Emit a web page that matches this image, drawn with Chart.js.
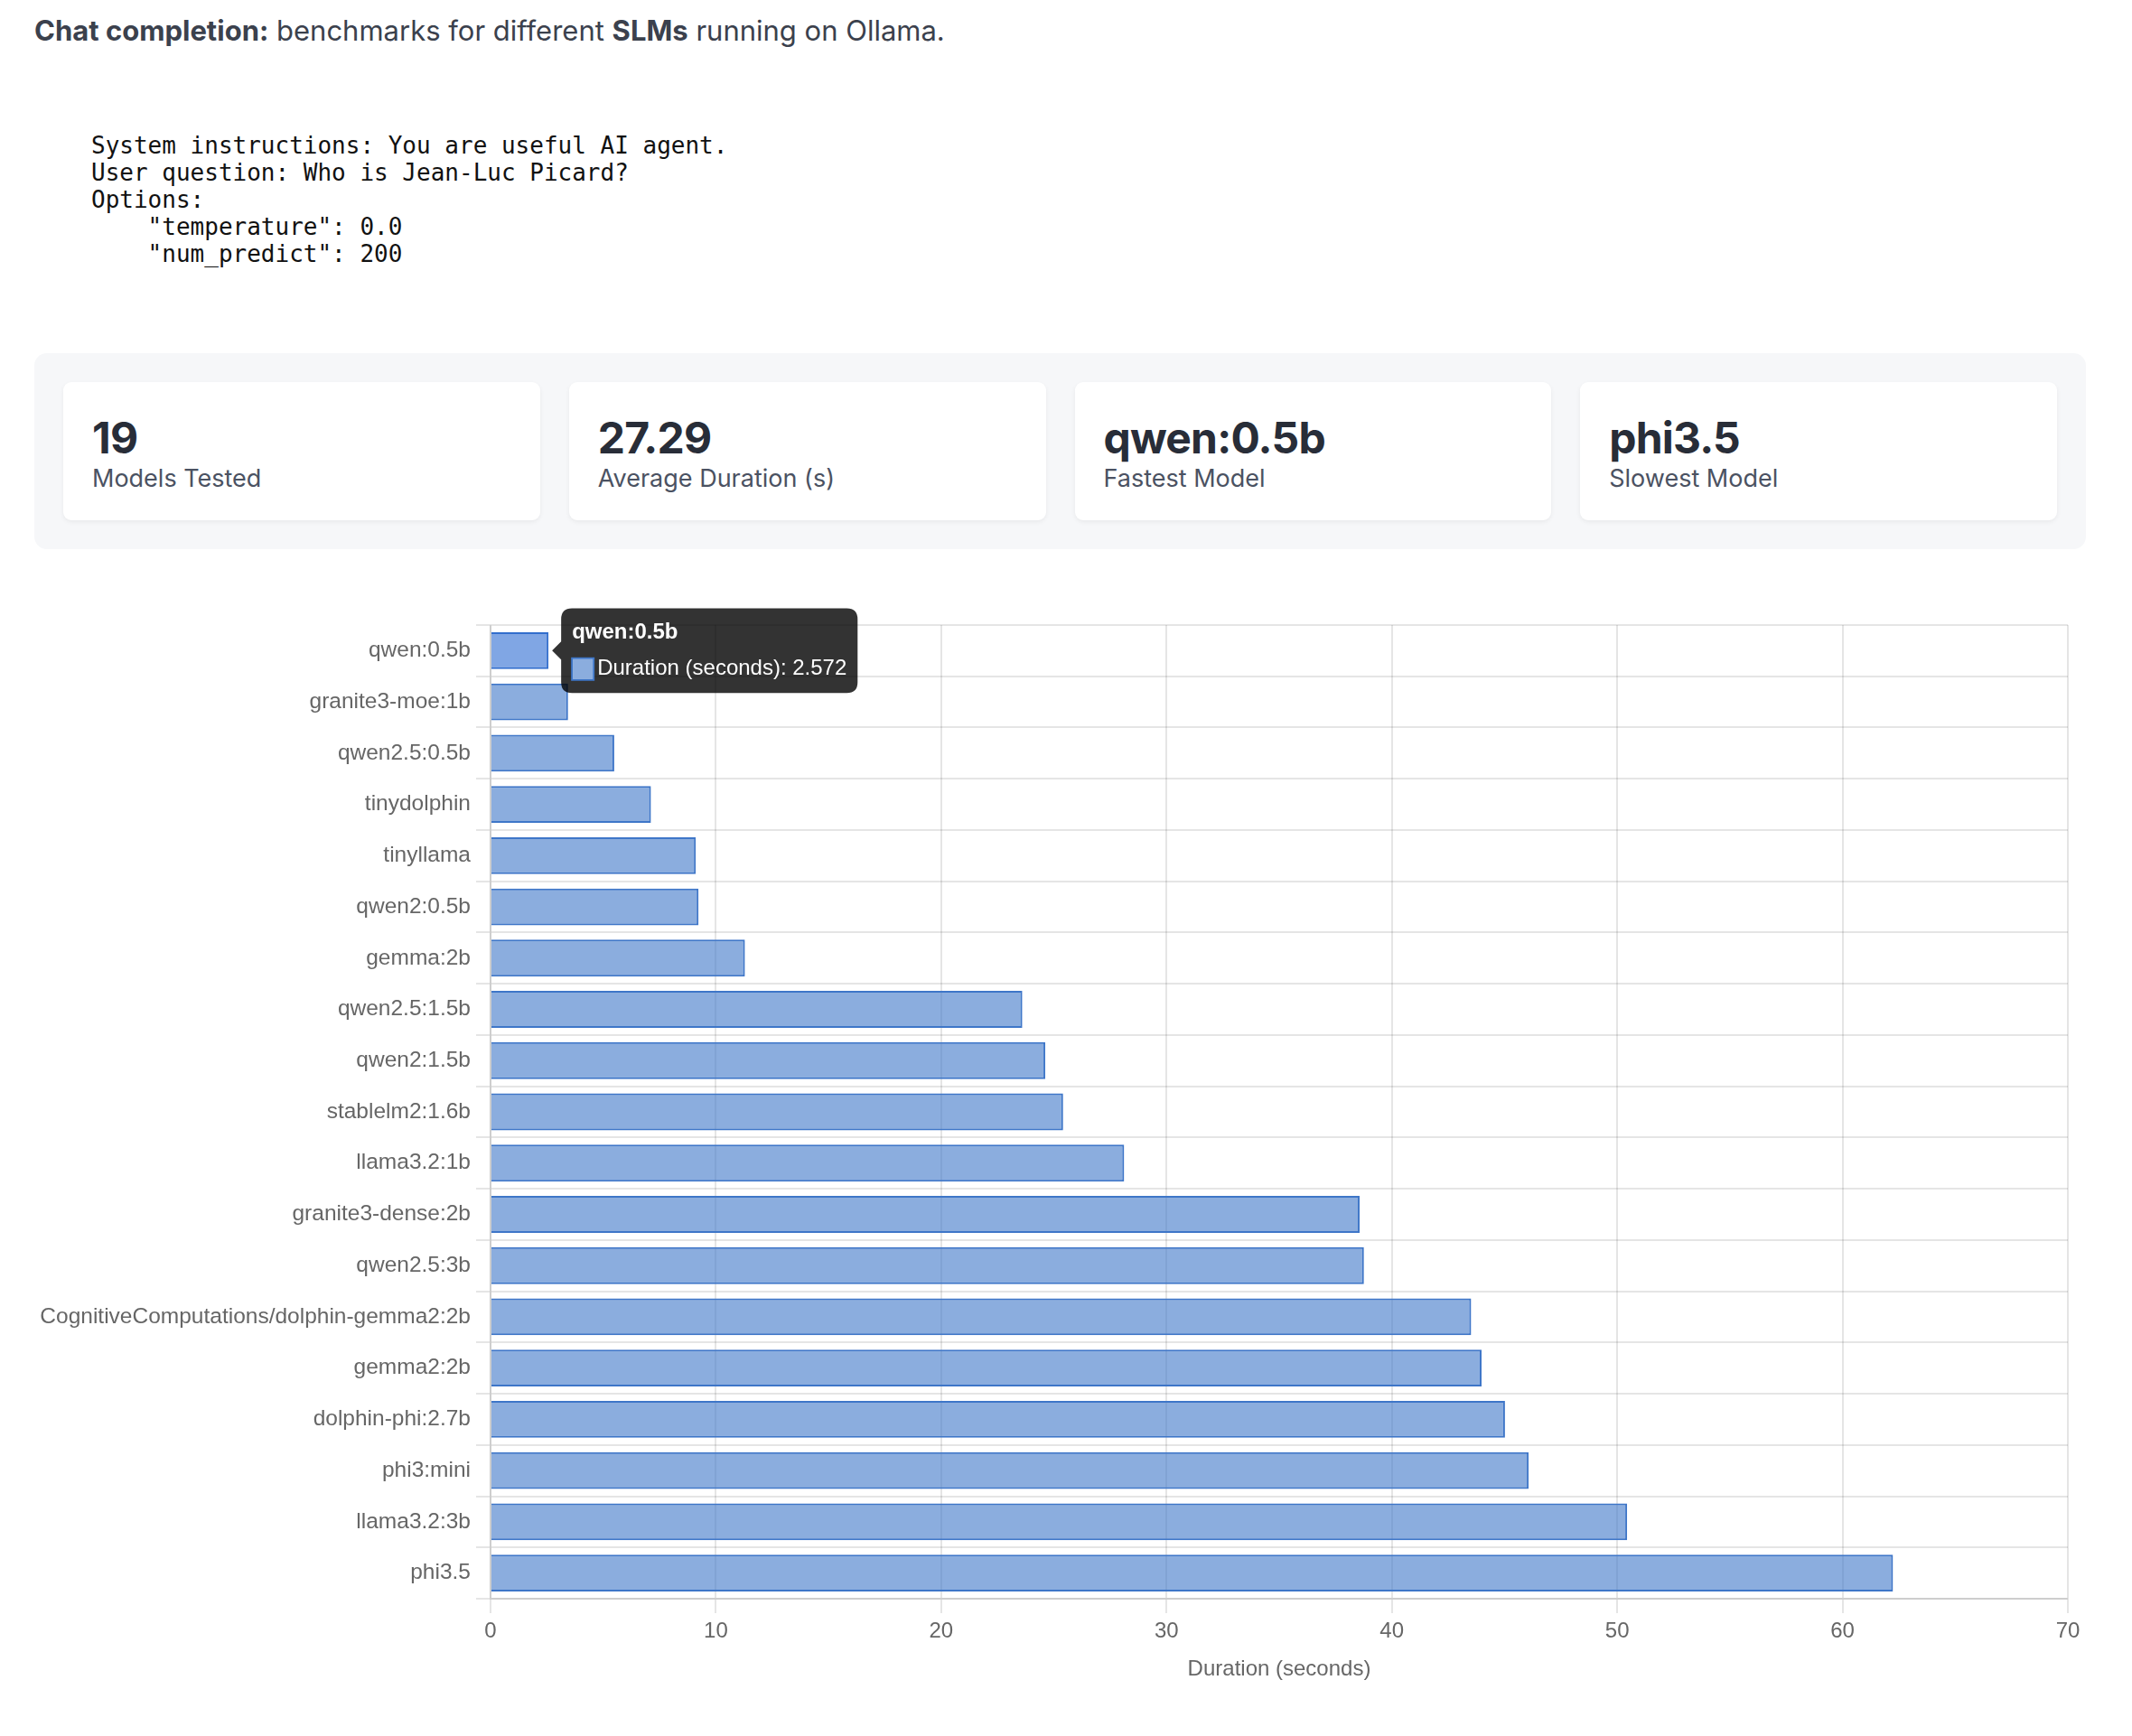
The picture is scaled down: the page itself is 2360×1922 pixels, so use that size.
<!DOCTYPE html>
<html>
<head>
<meta charset="utf-8">
<script src="https://cdn.jsdelivr.net/npm/chart.js@4.4.1/dist/chart.umd.min.js"></script>
<style>
  html, body { margin: 0; padding: 0; background: #ffffff; }
  body { width: 2360px; height: 1922px; position: relative; overflow: hidden; font-family: "Inter", "Noto Sans", sans-serif; }
  #title { position: absolute; left: 38px; top: 15px; font-size: 31px; line-height: 37px; color: #3b414d; white-space: nowrap; }
  #title b { font-weight: 700; }
  #prompt { position: absolute; left: 101px; top: 146px; margin: 0; font-family: "DejaVu Sans Mono", monospace; font-size: 26px; line-height: 30px; color: #111; white-space: pre; }
  #stats { position: absolute; left: 38px; top: 391px; width: 2271px; height: 217px; box-sizing: border-box; padding: 32px; background: #f6f7f9; border-radius: 14px; display: grid; grid-template-columns: repeat(4, 1fr); column-gap: 32px; }
  .card { background: #ffffff; border-radius: 9px; box-shadow: 0 2px 5px rgba(0,0,0,0.06); box-sizing: border-box; padding: 35px 32px 0 32px; height: 153px; }
  .card .v { font-size: 48px; line-height: 53px; font-weight: 700; color: #282d38; letter-spacing: -0.8px; }
  .card .l { font-size: 27px; line-height: 32px; color: #4b5262; margin-top: 3px; }
  #chartBox { position: absolute; left: 38px; top: 640px; width: 2271px; height: 1231px; }
</style>
</head>
<body>
<div id="title"><b>Chat completion:</b> benchmarks for different <b>SLMs</b> running on Ollama.</div>
<pre id="prompt">System instructions: You are useful AI agent.
User question: Who is Jean-Luc Picard?
Options:
    "temperature": 0.0
    "num_predict": 200</pre>
<div id="stats"></div>
<div id="chartBox"><canvas id="c" width="2271" height="1231"></canvas></div>
<script>
// ---- data ----
const models = [
  "qwen:0.5b", "granite3-moe:1b", "qwen2.5:0.5b", "tinydolphin", "tinyllama",
  "qwen2:0.5b", "gemma:2b", "qwen2.5:1.5b", "qwen2:1.5b", "stablelm2:1.6b",
  "llama3.2:1b", "granite3-dense:2b", "qwen2.5:3b", "CognitiveComputations/dolphin-gemma2:2b",
  "gemma2:2b", "dolphin-phi:2.7b", "phi3:mini", "llama3.2:3b", "phi3.5"
];
const durations = [
  2.572, 3.44, 5.49, 7.12, 9.11,
  9.23, 11.29, 23.6, 24.62, 25.41,
  28.12, 38.57, 38.76, 43.52,
  43.98, 45.02, 46.07, 50.44, 62.24
];
const seriesLabel = "Duration (seconds)";
const axisTitle = "Duration (seconds)";
const statValues = ["19", "27.29", "qwen:0.5b", "phi3.5"];
const statLabels = ["Models Tested", "Average Duration (s)", "Fastest Model", "Slowest Model"];
const xTickMin = 0, xTickMax = 70, xTickStep = 10;

// ---- stats cards ----
const stats = document.getElementById('stats');
statValues.forEach((v, i) => {
  const card = document.createElement('div');
  card.className = 'card';
  const a = document.createElement('div'); a.className = 'v'; a.textContent = v;
  const b = document.createElement('div'); b.className = 'l'; b.textContent = statLabels[i];
  card.appendChild(a); card.appendChild(b);
  stats.appendChild(card);
});

// ---- chart ----
Chart.defaults.font.family = "'Helvetica Neue', Helvetica, Arial, 'Liberation Sans', sans-serif";
Chart.defaults.font.size = 24;
Chart.defaults.color = '#666';

Chart.Tooltip.positioners.barEnd = function (items) {
  if (!items.length) return false;
  const el = items[0].element;
  return { x: el.x, y: el.y };
};

const chart = new Chart(document.getElementById('c'), {
  type: 'bar',
  data: {
    labels: models,
    datasets: [{
      label: seriesLabel,
      data: durations,
      backgroundColor: 'rgba(62, 118, 200, 0.6)',
      borderColor: 'rgba(62, 118, 200, 1)',
      hoverBackgroundColor: 'rgba(44, 106, 210, 0.6)',
      hoverBorderColor: 'rgba(50, 110, 205, 1)',
      borderWidth: 2
    }]
  },
  options: {
    indexAxis: 'y',
    responsive: false,
    animation: false,
    events: [],
    layout: { padding: { top: 52, right: 20, left: 0, bottom: 0 } },
    plugins: {
      legend: { display: false },
      tooltip: {
        animation: false,
        position: 'barEnd',
        padding: 12,
        caretSize: 10,
        caretPadding: 4,
        cornerRadius: 12,
        titleMarginBottom: 12,
        titleSpacing: 4,
        bodySpacing: 4,
        boxPadding: 2,
        titleFont: { size: 24, weight: 'bold' },
        bodyFont: { size: 24 },
        backgroundColor: 'rgba(0,0,0,0.8)'
      }
    },
    scales: {
      x: {
        min: xTickMin, max: xTickMax,
        ticks: { stepSize: xTickStep, padding: 6 },
        grid: { lineWidth: 2, tickLength: 16 },
        border: { width: 2 },
        title: { display: true, text: axisTitle, padding: { top: 8, bottom: 8 } },
        afterFit: (s) => { s.height = 101; }
      },
      y: {
        ticks: { padding: 6, autoSkip: false, font: { size: 24.5 } },
        grid: { lineWidth: 2, tickLength: 16 },
        border: { width: 2 },
        afterFit: (s) => { s.width = 505; }
      }
    }
  }
});

const active = [{ datasetIndex: 0, index: 0 }];
chart.setActiveElements(active);
const el = chart.getDatasetMeta(0).data[0];
chart.tooltip.setActiveElements(active, { x: el.x, y: el.y });
chart.update();
</script>
</body>
</html>
